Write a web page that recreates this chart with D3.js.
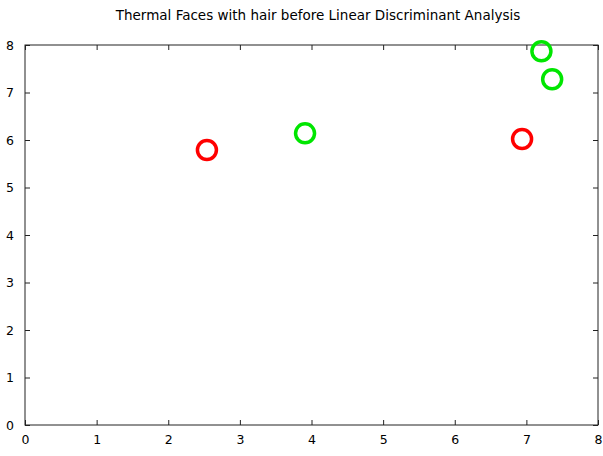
<!DOCTYPE html>
<html>
<head>
<meta charset="utf-8">
<script src="https://cdn.jsdelivr.net/npm/d3@7"></script>
<style>
  body { margin: 0; background: #fff; }
  text { font-family: "DejaVu Sans", sans-serif; fill: #000; }
</style>
</head>
<body>
<svg id="chart" width="603" height="456"></svg>
<script>
// data
var redX = [2.54, 6.94];
var redY = [5.79, 6.02];
var greenX = [3.91, 7.21, 7.36];
var greenY = [6.14, 7.87, 7.28];
var xTicks = [0, 1, 2, 3, 4, 5, 6, 7, 8];
var yTicks = [0, 1, 2, 3, 4, 5, 6, 7, 8];
var title = "Thermal Faces with hair before Linear Discriminant Analysis";

var svg = d3.select("#chart"),
    plotLeft = 25, plotRight = 598, plotTop = 45, plotBottom = 425;

var x = d3.scaleLinear().domain([0, 8]).range([plotLeft, plotRight]);
var y = d3.scaleLinear().domain([0, 8]).range([plotBottom, plotTop]);

var g = svg.append("g");

// frame
g.append("rect")
    .attr("x", plotLeft).attr("y", plotTop)
    .attr("width", plotRight - plotLeft).attr("height", plotBottom - plotTop)
    .attr("fill", "none").attr("stroke", "#222").attr("stroke-width", 1);

// inward ticks, all four sides
var bottomAxis = d3.axisBottom(x).tickValues(xTicks).tickSize(-5).tickPadding(10).tickFormat(d3.format("d"));
var topAxis = d3.axisTop(x).tickValues(xTicks).tickSize(-5).tickFormat("");
var leftAxis = d3.axisLeft(y).tickValues(yTicks).tickSize(-5).tickPadding(11).tickFormat(d3.format("d"));
var rightAxis = d3.axisRight(y).tickValues(yTicks).tickSize(-5).tickFormat("");

function style(sel) {
    sel.select(".domain").remove();
    sel.selectAll(".tick line").attr("stroke", "#222");
    sel.selectAll(".tick text").style("font-size", "12.5px").attr("fill", "#000");
}

g.append("g").attr("transform", "translate(0," + plotBottom + ")").call(bottomAxis).call(style);
g.append("g").attr("transform", "translate(0," + plotTop + ")").call(topAxis).call(style);
g.append("g").attr("transform", "translate(" + plotLeft + ",0)").call(leftAxis).call(style);
g.append("g").attr("transform", "translate(" + plotRight + ",0)").call(rightAxis).call(style);

svg.append("text")
    .attr("x", 318).attr("y", 20)
    .attr("text-anchor", "middle")
    .style("font-size", "13.5px")
    .text(title);

function dots(xs, ys, color) {
    svg.append("g").selectAll("circle")
        .data(xs.map(function(v, i) { return [v, ys[i]]; }))
        .enter().append("circle")
        .attr("cx", function(d) { return x(d[0]); })
        .attr("cy", function(d) { return y(d[1]); })
        .attr("r", 9.5)
        .attr("fill", "none")
        .attr("stroke", color)
        .attr("stroke-width", 3.5);
}
dots(redX, redY, "#ff0000");
dots(greenX, greenY, "#00e600");
</script>
</body>
</html>
